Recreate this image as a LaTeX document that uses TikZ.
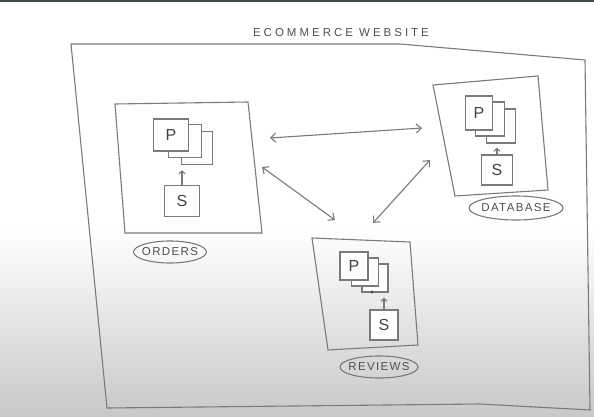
\documentclass[tikz,border=0pt]{standalone}
\usepackage{fontspec}
\setmainfont{Liberation Sans}
\newfontfamily\handfont[LetterSpace=12]{Liberation Sans}
\newfontfamily\titlefont[LetterSpace=26]{Liberation Sans}
\usetikzlibrary{arrows.meta, shapes.geometric}
\definecolor{ink}{HTML}{7A7A7A}
\definecolor{paper}{HTML}{C8C8C8}
\definecolor{band}{HTML}{3E4A4B}

\begin{document}
\begin{tikzpicture}[x=1pt, y=-1pt,
  line/.style={draw=ink, line width=1.1pt},
  page/.style={line, fill=white, inner sep=0pt, font=\fontsize{16}{16}\selectfont, text=ink!55!black},
  tag/.style={line, ellipse, inner xsep=-4pt, inner ysep=0pt, font=\handfont\fontsize{11.5}{11.5}\selectfont, text=ink!65!black},
  link/.style={line, {Straight Barb[length=5pt,width=9pt]}-{Straight Barb[length=5pt,width=9pt]}},
  up/.style={line, -{Straight Barb[length=3pt,width=6pt]}}]
\fill[white] (0,0) rectangle (594,230);
\shade[top color=white, bottom color=paper] (0,229) rectangle (594,417);
\fill[band] (0,0) rectangle (594,2.5);
\useasboundingbox (0,0) rectangle (594,417);
\node[font=\titlefont\fontsize{11.5}{11.5}\selectfont, text=ink!65!black] (title) at (341,33) {ECOMMERCE WEBSITE};
\draw[line] (71,44) -- (400,44) -- (585,60) -- (590,410) -- (480,404) -- (107,408) -- cycle;
\draw[line] (115,104) -- (248,102) -- (262,233) -- (125,233) -- cycle;
\draw[line] (433,85) -- (538,76) -- (548,190) -- (455,196) -- cycle;
\draw[line] (312,238) -- (410,242) -- (418,345) -- (328,350) -- cycle;
\node[page, minimum width=31pt, minimum height=33pt] (op3) at (197,148) {};
\node[page, minimum width=33pt, minimum height=33pt] (op2) at (185,141) {};
\node[page, minimum width=35pt, minimum height=32pt] (op) at (171,135) {P};
\node[page, minimum width=35pt, minimum height=31pt] (os) at (182,201) {S};
\draw[up, shorten >=5pt] (os.north) -- (os.north |- op3.south);
\node[page, minimum width=29pt, minimum height=34pt] (dp3) at (501,126) {};
\node[page, minimum width=29pt, minimum height=34pt] (dp2) at (490,119) {};
\node[page, minimum width=27pt, minimum height=34pt] (dp) at (479,113) {P};
\node[page, minimum width=31pt, minimum height=30pt] (ds) at (497,170) {S};
\draw[up, shorten >=4pt] (ds.north) -- (ds.north |- dp3.south);
\node[page, minimum width=26pt, minimum height=28pt] (rp3) at (375,278) {};
\node[page, minimum width=27pt, minimum height=28pt] (rp2) at (365,272) {};
\node[page, minimum width=28pt, minimum height=28pt] (rp) at (354,266) {P};
\node[page, minimum width=28pt, minimum height=30pt] (rs) at (384,325) {S};
\draw[up, shorten >=5pt] (rs.north) -- (rs.north |- rp3.south);
\fill[ink!60!black] (372,292) circle (1.6);
\node[tag, minimum width=73pt, minimum height=22pt] (orders) at (170,252) {ORDERS};
\node[tag, minimum width=94pt, minimum height=24pt] (database) at (516,208) {DATABASE};
\node[tag, minimum width=78pt, minimum height=22pt] (reviews) at (379,367) {REVIEWS};
\coordinate (ordersE) at (270,138);
\coordinate (ordersS) at (262,167);
\coordinate (databaseW) at (422,128);
\coordinate (databaseS) at (430,160);
\coordinate (reviewsW) at (335,220);
\coordinate (reviewsE) at (373,223);
\draw[link] (ordersE) -- (databaseW);
\draw[link] (ordersS) -- (reviewsW);
\draw[link] (databaseS) -- (reviewsE);
\end{tikzpicture}
\end{document}
